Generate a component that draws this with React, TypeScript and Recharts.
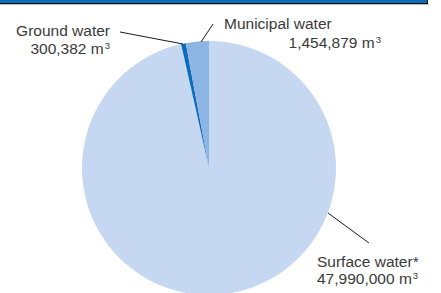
import React from 'react';
import { PieChart, Pie, Cell } from 'recharts';

const categories = ['Surface water*', 'Ground water', 'Municipal water'];
const values = [47990000, 300382, 1454879];
const valueLabels = ['47,990,000', '300,382', '1,454,879'];
const colors = ['#c6d8f1', '#0b6cbc', '#8db5e3'];

const data = categories.map((name, i) => ({ name, value: values[i], label: valueLabels[i] }));

// label layout: line from (lx1,ly1) to (lx2,ly2), text anchor point and alignment (relative to pie centre)
const layout = [
  { l: [119, 45, 160, 75], t: [108, 99], t2: [108, 116], anchor: 'start', a2: 'start' },
  { l: [-26, -124, -89, -136], t: [-99, -132], t2: [-99, -114], anchor: 'end', a2: 'end' },
  { l: [-8, -126, 4, -144], t: [15, -139], t2: [172, -120], anchor: 'start', a2: 'end' },
];

const FONT = 'Liberation Sans, Arial, sans-serif';

const renderLabel = (props: any) => {
  const { cx, cy, index } = props;
  const L = layout[index];
  const d = data[index];
  return (
    <g key={`lbl-${index}`}>
      <line x1={cx + L.l[0]} y1={cy + L.l[1]} x2={cx + L.l[2]} y2={cy + L.l[3]} stroke="#1a1a1a" strokeWidth={1} />
      <text x={cx + L.t[0]} y={cy + L.t[1]} textAnchor={L.anchor} fill="#3a3a3a" fontSize={15.5} fontFamily={FONT}>
        {d.name}
      </text>
      <text x={cx + L.t2[0]} y={cy + L.t2[1]} textAnchor={L.a2} fill="#3a3a3a" fontSize={15.5} fontFamily={FONT}>
        {d.label} m
        <tspan fontSize={9.5} dx={1} dy={-5}>3</tspan>
      </text>
    </g>
  );
};

export default function App() {
  return (
    <div style={{ position: 'absolute', left: 0, top: 0, width: 441, height: 293, background: '#fff', overflow: 'hidden' }}>
      <div style={{ position: 'absolute', left: 0, top: 0, width: 427, height: 3, background: '#0a6bb7' }} />
      <div style={{ position: 'absolute', left: 0, top: 3, width: 428, height: 1, background: '#111' }} />
      <div style={{ position: 'absolute', left: 427, top: 0, width: 1, height: 4, background: '#111' }} />
      <div style={{ position: 'absolute', left: 0, top: 4, width: 429, height: 1, background: '#bbb' }} />
      <PieChart width={441} height={293} margin={{ top: 0, right: 0, bottom: 0, left: 0 }}>
        <Pie
          data={data}
          dataKey="value"
          nameKey="name"
          cx={209}
          cy={168}
          outerRadius={127}
          innerRadius={0}
          startAngle={90}
          endAngle={-270}
          stroke="none"
          isAnimationActive={false}
          label={renderLabel}
          labelLine={false}
        >
          {data.map((d, i) => (
            <Cell key={d.name} fill={colors[i]} />
          ))}
        </Pie>
      </PieChart>
    </div>
  );
}
